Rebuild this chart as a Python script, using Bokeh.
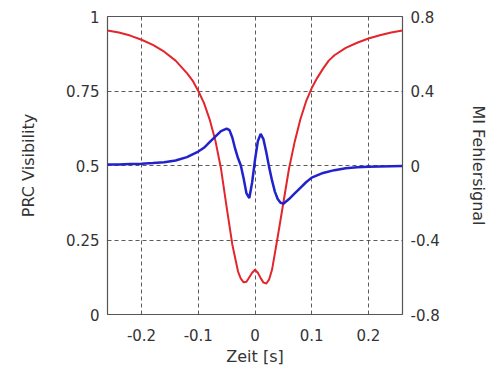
from bokeh.plotting import figure
from bokeh.models import Range1d, LinearAxis, FixedTicker
from bokeh.embed import file_html
from bokeh.resources import INLINE

# PRC visibility (left axis)
time_red = [-0.26, -0.24, -0.22, -0.20, -0.18, -0.16, -0.14, -0.12, -0.11, -0.10,
            -0.09, -0.08, -0.07, -0.06, -0.05, -0.04, -0.03, -0.025, -0.02, -0.015,
            -0.01, -0.005, 0.0, 0.005, 0.01, 0.015, 0.02, 0.025, 0.03, 0.04,
            0.05, 0.06, 0.07, 0.08, 0.09, 0.10, 0.11, 0.12, 0.13, 0.14,
            0.16, 0.18, 0.20, 0.22, 0.24, 0.26]
prc_visibility = [0.953, 0.946, 0.936, 0.922, 0.905, 0.882, 0.852, 0.81, 0.785, 0.75,
                  0.71, 0.655, 0.585, 0.49, 0.36, 0.235, 0.145, 0.12, 0.108, 0.11,
                  0.125, 0.14, 0.15, 0.14, 0.122, 0.107, 0.104, 0.118, 0.15, 0.26,
                  0.375, 0.49, 0.58, 0.655, 0.715, 0.76, 0.795, 0.825, 0.852, 0.87,
                  0.895, 0.912, 0.926, 0.937, 0.946, 0.953]

# MI error signal (right axis)
time_blue = [-0.26, -0.24, -0.22, -0.20, -0.18, -0.16, -0.14, -0.12, -0.10, -0.09,
             -0.08, -0.07, -0.06, -0.05, -0.045, -0.04, -0.035, -0.03, -0.025, -0.02,
             -0.015, -0.01, -0.005, 0.0, 0.005, 0.01, 0.015, 0.02, 0.025, 0.03,
             0.035, 0.04, 0.045, 0.05, 0.06, 0.07, 0.08, 0.09, 0.10, 0.12,
             0.14, 0.16, 0.18, 0.20, 0.22, 0.24, 0.26]
mi_signal = [0.005, 0.006, 0.008, 0.01, 0.013, 0.018, 0.027, 0.045, 0.075, 0.095,
             0.125, 0.155, 0.185, 0.198, 0.19, 0.15, 0.09, 0.04, 0.0, -0.07,
             -0.15, -0.175, -0.09, 0.03, 0.13, 0.17, 0.14, 0.07, -0.01, -0.08,
             -0.14, -0.18, -0.2, -0.205, -0.18, -0.15, -0.12, -0.09, -0.065, -0.04,
             -0.025, -0.015, -0.01, -0.007, -0.005, -0.004, -0.003]

x_ticks = [-0.2, -0.1, 0.0, 0.1, 0.2]
x_labels = ["-0.2", "-0.1", "0", "0.1", "0.2"]
left_ticks = [0.0, 0.25, 0.5, 0.75, 1.0]
left_labels = ["0", "0.25", "0.5", "0.75", "1"]
right_ticks = [-0.8, -0.4, 0.0, 0.4, 0.8]
right_labels = ["-0.8", "-0.4", "0", "0.4", "0.8"]

FONT = "DejaVu Sans"
TXT = "#333333"

W, H = 490, 370
p = figure(width=W, height=H, output_backend="svg", toolbar_location=None,
           x_range=Range1d(-0.26, 0.26), y_range=Range1d(0, 1),
           min_border_left=107, min_border_right=W - 404, min_border_top=16,
           min_border_bottom=H - 314)
p.background_fill_color = "white"
p.border_fill_color = "white"
p.outline_line_color = "#555555"
p.outline_line_width = 1.2

p.extra_y_ranges = {"mi": Range1d(-0.8, 0.8)}
right_axis = LinearAxis(y_range_name="mi")
p.add_layout(right_axis, "right")

for ax in [p.xaxis[0], p.yaxis[0], right_axis]:
    ax.axis_line_color = None
    ax.major_tick_line_color = None
    ax.minor_tick_line_color = None
    ax.major_tick_out = 0
    ax.major_tick_in = 0
    ax.minor_tick_out = 0
    ax.major_label_text_font = FONT
    ax.major_label_text_font_size = "15px"
    ax.major_label_text_color = TXT
    ax.major_label_standoff = 8
    ax.axis_label_text_font = FONT
    ax.axis_label_text_font_size = "16px"
    ax.axis_label_text_font_style = "normal"
    ax.axis_label_text_color = TXT

p.xaxis[0].ticker = FixedTicker(ticks=x_ticks)
p.xaxis[0].major_label_overrides = dict(zip(x_ticks, x_labels))
p.xaxis[0].axis_label = "Zeit [s]"
p.xaxis[0].major_label_standoff = 14
p.xaxis[0].axis_label_standoff = 3

p.yaxis[0].ticker = FixedTicker(ticks=left_ticks)
p.yaxis[0].major_label_overrides = dict(zip(left_ticks, left_labels))
p.yaxis[0].axis_label = "PRC Visibility"
p.yaxis[0].axis_label_standoff = 25

right_axis.ticker = FixedTicker(ticks=right_ticks)
right_axis.major_label_overrides = dict(zip(right_ticks, right_labels))
right_axis.axis_label = "MI Fehlersignal"
right_axis.axis_label_standoff = 26

for g in [p.xgrid[0], p.ygrid[0]]:
    g.grid_line_color = "#333333"
    g.grid_line_dash = "4 3"
    g.grid_line_width = 1
    g.grid_line_alpha = 0.8

p.line(time_red, prc_visibility, line_color="#e3262b", line_width=2)
p.line(time_blue, mi_signal, line_color="#2222cc", line_width=2.5, y_range_name="mi")

open("out.html", "w").write(file_html(p, INLINE))
